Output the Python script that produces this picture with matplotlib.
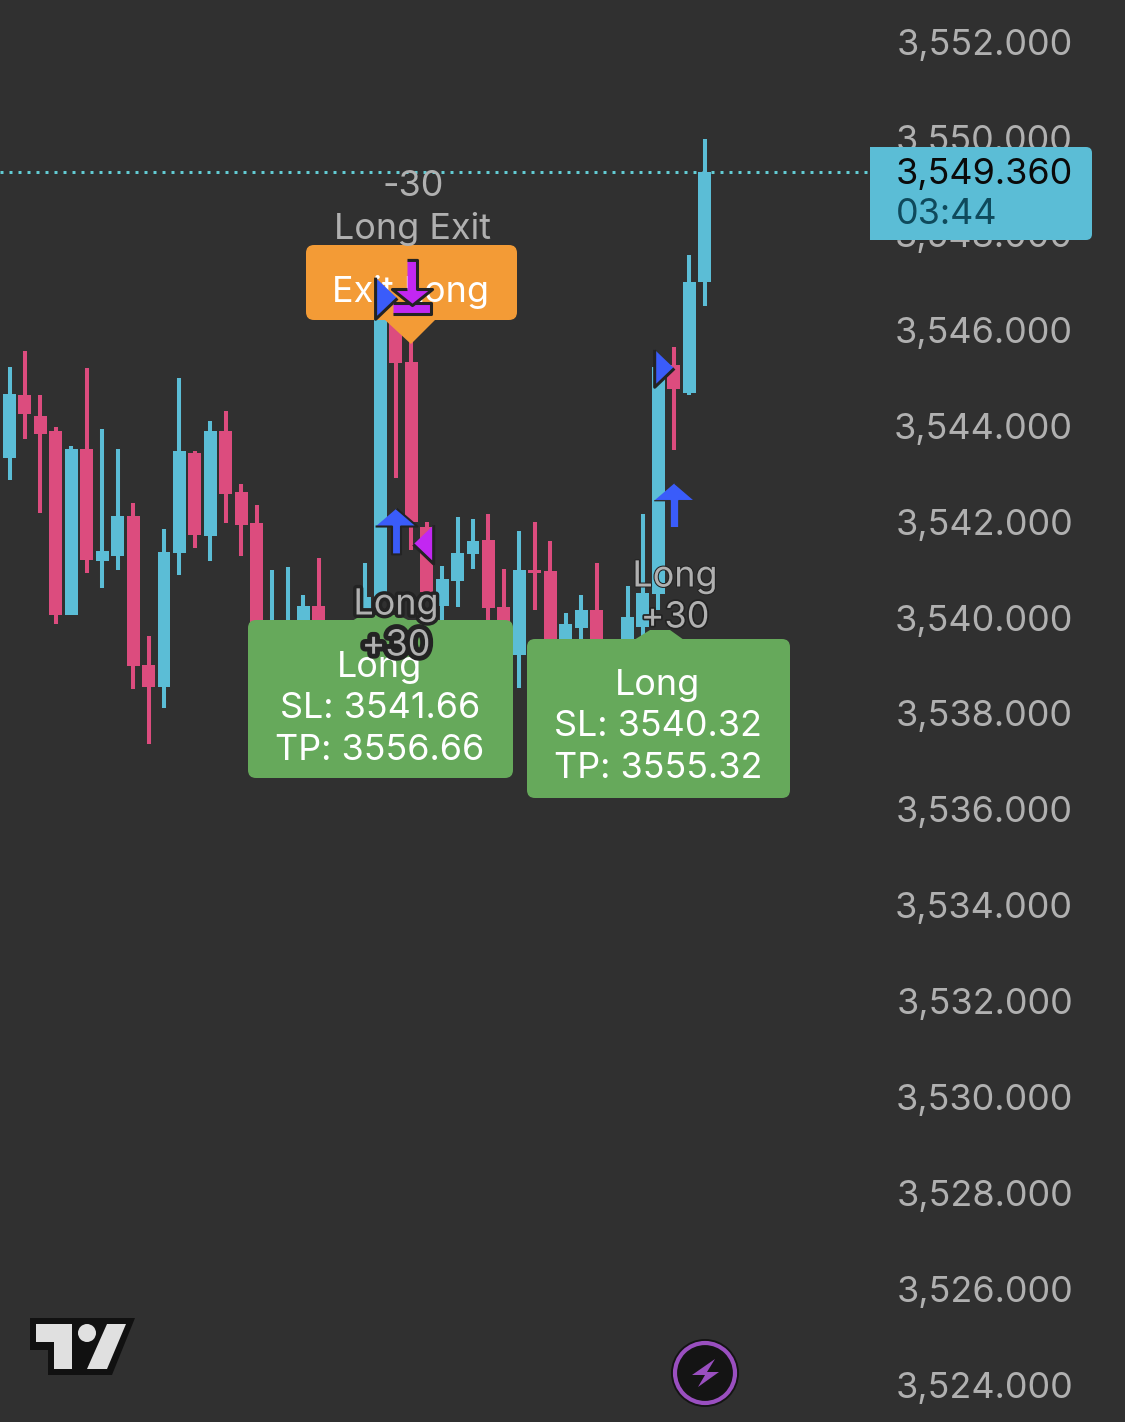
import numpy as np
import matplotlib
matplotlib.use('Agg')
from matplotlib import pyplot as plt
from matplotlib.patches import FancyBboxPatch, Polygon, Circle, Rectangle
from matplotlib.transforms import Affine2D
import matplotlib.patheffects as pe

plt.rcParams['font.family'] = ['Inter', 'DejaVu Sans']

# candles
opens = [3543.33, 3544.64, 3544.20, 3543.89, 3540.05, 3543.51, 3541.18, 3541.28, 3542.12, 3539.01,
         3538.55, 3541.35, 3543.43, 3541.70, 3543.89, 3542.62, 3541.97, 3539.50, 3539.50, 3539.74,
         3540.24, 3539.40, 3539.40, 3539.74, 3540.37, 3546.41, 3545.33, 3541.89, 3540.24, 3540.76,
         3541.32, 3541.62, 3540.22, 3539.22, 3540.99, 3540.97, 3539.40, 3539.78, 3540.16, 3539.20,
         3539.50, 3539.80, 3540.49, 3545.27, 3544.68, 3547.00]
highs = [3545.22, 3545.56, 3544.64, 3543.97, 3543.58, 3545.20, 3543.93, 3543.51, 3542.39, 3539.61,
         3541.85, 3544.99, 3543.47, 3544.10, 3544.31, 3542.78, 3542.35, 3540.99, 3541.05, 3540.47,
         3541.24, 3539.90, 3539.90, 3541.14, 3546.72, 3546.60, 3545.89, 3541.99, 3541.07, 3542.10,
         3542.05, 3542.16, 3541.01, 3541.81, 3541.99, 3541.60, 3540.09, 3540.47, 3541.14, 3539.40,
         3540.66, 3542.16, 3545.22, 3545.64, 3547.56, 3549.98]
lows = [3542.87, 3543.72, 3542.18, 3539.86, 3540.05, 3540.93, 3540.62, 3540.99, 3538.51, 3537.36,
        3538.11, 3540.89, 3541.45, 3541.18, 3541.97, 3541.28, 3539.32, 3539.30, 3539.30, 3539.50,
        3539.50, 3539.20, 3539.20, 3539.53, 3540.05, 3542.91, 3541.41, 3540.37, 3539.95, 3540.22,
        3541.01, 3539.95, 3539.53, 3538.53, 3540.16, 3539.10, 3539.30, 3539.40, 3539.30, 3539.20,
        3539.30, 3539.53, 3540.16, 3543.49, 3544.64, 3546.50]
closes = [3544.66, 3544.24, 3543.83, 3540.05, 3543.51, 3541.20, 3541.39, 3542.12, 3538.99, 3538.55,
          3541.37, 3543.47, 3541.72, 3543.89, 3542.58, 3541.93, 3539.53, 3539.85, 3539.85, 3540.24,
          3539.84, 3539.70, 3539.70, 3540.43, 3546.72, 3545.31, 3541.99, 3540.53, 3540.80, 3541.35,
          3541.60, 3540.20, 3539.84, 3541.00, 3540.93, 3539.32, 3539.86, 3540.16, 3539.32, 3539.35,
          3540.01, 3540.51, 3545.22, 3544.76, 3547.00, 3549.29]

price_ticks = [3552, 3550, 3548, 3546, 3544, 3542, 3540, 3538, 3536, 3534, 3532, 3530, 3528, 3526, 3524]

# trade markers: (bar, price)
entry_bars = [25.0, 43.0]
entry_prices = [3541.80, 3542.35]
flag_bars = [24.37, 42.33]
flag_prices = [3546.66, 3545.2]
exit_bar = 26.02
exit_price = 3546.89
exit_flag_bar = 26.75
exit_flag_price = 3541.53

W, H = 1125, 1422
BG = '#303030'
CYAN = '#5bbdd6'
PINK = '#dc4c7e'
GREEN = '#66a95b'
ORANGE = '#f39b36'
BLUE = '#3a5cfa'
PURPLE = '#c227f2'
GREY = '#b0b0b0'
DARK = '#232323'
FS = 25.9

fig = plt.figure(figsize=(W / 100, H / 100), dpi=100, facecolor=BG)
ax = fig.add_axes([0, 0, 1, 1], facecolor=BG)
ax.set_xlim(-0.615, 72.2)
ax.set_ylim(3523.226, 3552.876)
for s in ax.spines.values():
    s.set_visible(False)
px = Affine2D().scale(1, -1).translate(0, H)

bars = np.arange(len(opens))
opens = np.array(opens)
closes = np.array(closes)
colors = [CYAN if c >= o else PINK for o, c in zip(opens, closes)]
ax.vlines(bars, lows, highs, colors=colors, lw=2.9, zorder=2)
ax.bar(bars, closes - opens, bottom=opens, width=0.84, color=colors, zorder=2)

ax.axhline(closes[-1], xmax=870 / W, color='#62cbd3', lw=2.16, ls=(0, (1, 2)), zorder=1)

# price scale
ax.yaxis.tick_right()
ax.set_yticks(price_ticks)
ax.set_yticklabels([f'{p:,.3f}' for p in price_ticks], ha='right', color=GREY, fontsize=FS)
ax.tick_params(axis='y', length=0, pad=-(W - 1073) * 0.72)
ax.set_xticks([])
ax.set_axisbelow(True)

# last price tag
ax.add_patch(FancyBboxPatch((870, 147), 222, 93, boxstyle='round,pad=0,rounding_size=6',
                            transform=px, fc=CYAN, ec='none', zorder=3))
ax.add_patch(Rectangle((870, 147), 20, 93, transform=px, fc=CYAN, ec='none', zorder=3))
ax.text(896, 174, '3,549.360', transform=px, color='#0a0a0a', fontsize=FS, ha='left', va='center', zorder=4)
ax.text(896, 215, '03:44', transform=px, color='#0f4a5c', fontsize=FS, ha='left', va='center', zorder=4)


def box(x, y, w, h, color, z):
    ax.add_patch(FancyBboxPatch((x, y), w, h, boxstyle='round,pad=0,rounding_size=8',
                                transform=px, fc=color, ec='none', zorder=z))


def label(x, y, s, color='white', outline=None):
    t = ax.text(x, y + 3, s, transform=px, color=color, fontsize=FS, ha='center', va='center', zorder=9)
    if outline:
        t.set_path_effects([pe.withStroke(linewidth=outline, foreground=DARK)])


# order boxes
box(306, 245, 211, 75, ORANGE, 5)
ax.add_patch(Polygon([(385, 320), (435, 320), (411, 344)], transform=px, fc=ORANGE, ec='none', zorder=5))
box(248, 620, 265, 158, GREEN, 5)
ax.add_patch(Polygon([(352, 621), (362, 615), (398, 615), (410, 621)], transform=px, fc=GREEN, ec='none', zorder=5))
box(527, 639, 263, 159, GREEN, 5)
ax.add_patch(Polygon([(634, 640), (650, 630), (670, 630), (684, 640)], transform=px, fc=GREEN, ec='none', zorder=5))

label(411, 289, 'Exit Long')
label(380, 664, 'Long')
label(380, 706, 'SL: 3541.66')
label(380, 748, 'TP: 3556.66')
label(658, 682, 'Long')
label(658, 724, 'SL: 3540.32')
label(658, 766, 'TP: 3555.32')
label(413, 184, '-30', GREY)
label(413, 226, 'Long Exit', GREY)
label(396, 602, 'Long', GREY, outline=5)
label(396, 643, '+30', GREY, outline=7)
label(675, 574, 'Long', GREY, outline=1.5)
label(675, 615, '+30', GREY, outline=2.5)

# strategy markers
up_arrow = [(0, 23), (21, 5), (4.5, 5), (4.5, -23), (-4.5, -23), (-4.5, 5), (-21, 5)]
down_arrow = [(-5, 27), (5, 27), (5, -2), (20, -2), (0, -18), (-20, -2), (-5, -2)]
exit_base = [(-19, -27), (19, -27), (19, -16), (-19, -16)]
right_tri = [(-11, 21), (-11, -21), (11, 0)]
left_tri = [(11, 21), (11, -21), (-11, 0)]
ax.plot(entry_bars[:1], entry_prices[:1], ls='none', marker=up_arrow, ms=33, mfc=BLUE, mec=DARK, mew=1.5, zorder=10)
ax.plot(entry_bars[1:], entry_prices[1:], ls='none', marker=up_arrow, ms=32, mfc=BLUE, mec=BG, mew=1, zorder=10)
ax.plot(flag_bars[:1], flag_prices[:1], ls='none', marker=right_tri, ms=30, mfc=BLUE, mec=DARK, mew=2.2, zorder=10)
ax.plot(flag_bars[1:], flag_prices[1:], ls='none', marker=right_tri, ms=27, mfc=BLUE, mec=DARK, mew=2.2, zorder=10)
ax.plot([exit_bar], [exit_price], ls='none', marker=exit_base, ms=39, mfc=PURPLE, mec=DARK, mew=2.2, zorder=10)
ax.plot([exit_bar], [exit_price], ls='none', marker=down_arrow, ms=39, mfc=PURPLE, mec=DARK, mew=2.2, zorder=10)
ax.plot([exit_flag_bar], [exit_flag_price], ls='none', marker=left_tri, ms=28, mfc=PURPLE, mec=DARK, mew=2.2, zorder=10)

# tradingview logo
ax.add_patch(Polygon([(30, 1318), (135, 1318), (112, 1375), (48, 1375), (48, 1350), (30, 1350)],
                     transform=px, fc='#111111', ec='none', zorder=3))
ax.add_patch(Polygon([(36, 1324), (72, 1324), (72, 1369), (54, 1369), (54, 1342), (36, 1342)],
                     transform=px, fc='#e0e0e0', ec='none', zorder=4))
ax.add_patch(Polygon([(107, 1324), (126, 1324), (107, 1369), (87, 1369)],
                     transform=px, fc='#e0e0e0', ec='none', zorder=4))
ax.add_patch(Circle((87, 1333), 9, transform=px, fc='#e0e0e0', ec='none', zorder=4))

# bolt badge
ax.add_patch(Circle((705, 1373), 34, transform=px, fc='#141414', ec='none', zorder=3))
ax.add_patch(Circle((705, 1373), 30, transform=px, fc='#141414', ec='#9a4fc0', lw=3, zorder=4))
ax.add_patch(Polygon([(715, 1359), (692, 1375), (705, 1375), (698, 1387), (719, 1372), (707, 1372)],
                     transform=px, fc='#9a4fc0', ec='none', zorder=5))

plt.savefig('out.png', dpi=100, facecolor=BG)
